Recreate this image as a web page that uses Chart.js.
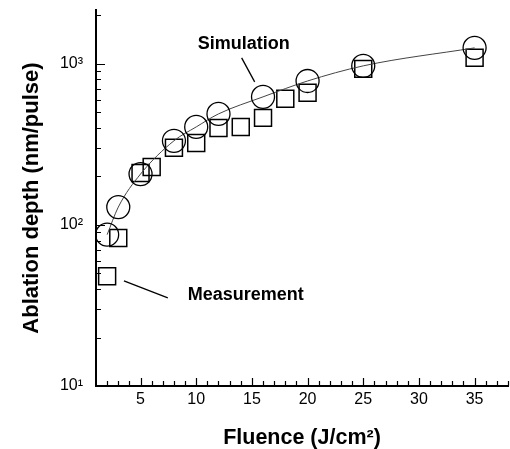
<!DOCTYPE html>
<html lang="en">
<head>
<meta charset="UTF-8">
<title>Ablation depth vs fluence</title>
<script src="https://cdn.jsdelivr.net/npm/chart.js@4.4.0/dist/chart.umd.min.js"></script>
<style>
html, body { margin: 0; padding: 0; background: #fff; }
</style>
</head>
<body>
<canvas id="myChart" width="510" height="449"></canvas>
<script>
// simulation results (circles joined by a line)
var simFluence = [2, 3, 5, 8, 10, 12, 16, 20, 25, 35];
var simDepth = [87, 129, 207, 333, 406, 489, 624, 783, 972, 1257];

// measured values (squares)
var measFluence = [2, 3, 5, 6, 8, 10, 12, 14, 16, 18, 20, 25, 35];
var measDepth = [48, 83, 210, 229, 301, 323, 400, 406, 462, 607, 661, 931, 1090];

// axis ticks
var xTickValues = [5, 10, 15, 20, 25, 30, 35];
var yTickValues = [10, 100, 1000];
var yTickLabels = ['10\u00B9', '10\u00B2', '10\u00B3'];

var FONT = '"Liberation Sans", Arial, Helvetica, sans-serif';

function toPoints(xs, ys) {
  var pts = [];
  for (var i = 0; i < xs.length; i++) pts.push({x: xs[i], y: ys[i]});
  return pts;
}

// labels with leader lines, placed in data units
var notes = [
  {text: 'Simulation', x: 14.26, y: 1331, align: 'center', from: [14.08, 1090], to: [15.25, 773]},
  {text: 'Measurement', x: 9.24, y: 36.7, align: 'left', from: [3.51, 44.9], to: [7.45, 35.2]}
];

// ticks point into the plot, major ones longer
var innerTicks = {
  id: 'innerTicks',
  afterDraw: function(chart) {
    var ctx = chart.ctx, xs = chart.scales.x, ys = chart.scales.y, a = chart.chartArea;
    ctx.save();
    ctx.strokeStyle = '#000';
    ctx.lineWidth = 1.2;
    ctx.beginPath();
    for (var v = Math.ceil(xs.min) + 1; v <= xs.max; v++) {
      var px = Math.round(xs.getPixelForValue(v)) + 0.5;
      var len = (v % 5 === 0) ? 8 : 5;
      ctx.moveTo(px, a.bottom);
      ctx.lineTo(px, a.bottom - len);
    }
    for (var d = 10; d <= ys.max; d *= 10) {
      for (var k = 1; k <= 9; k++) {
        var val = d * k;
        if (val > ys.max) break;
        var py = Math.round(ys.getPixelForValue(val)) + 0.5;
        var l = (k === 1) ? 9 : 5;
        ctx.moveTo(a.left, py);
        ctx.lineTo(a.left + l, py);
      }
    }
    ctx.stroke();
    ctx.restore();
  }
};

var noteLabels = {
  id: 'noteLabels',
  afterDraw: function(chart) {
    var ctx = chart.ctx, xs = chart.scales.x, ys = chart.scales.y;
    ctx.save();
    ctx.strokeStyle = '#000';
    ctx.lineWidth = 1.3;
    ctx.fillStyle = '#000';
    ctx.font = 'bold 18px ' + FONT;
    ctx.textBaseline = 'middle';
    notes.forEach(function(n) {
      ctx.beginPath();
      ctx.moveTo(xs.getPixelForValue(n.from[0]), ys.getPixelForValue(n.from[1]));
      ctx.lineTo(xs.getPixelForValue(n.to[0]), ys.getPixelForValue(n.to[1]));
      ctx.stroke();
      ctx.textAlign = n.align;
      ctx.fillText(n.text, xs.getPixelForValue(n.x), ys.getPixelForValue(n.y));
    });
    ctx.restore();
  }
};

var ctx = document.getElementById('myChart').getContext('2d');
var chart = new Chart(ctx, {
  type: 'scatter',
  data: {
    datasets: [{
      label: 'Simulation',
      data: toPoints(simFluence, simDepth),
      showLine: true,
      cubicInterpolationMode: 'monotone',
      borderColor: '#444',
      borderWidth: 1,
      pointStyle: 'circle',
      pointRadius: 11.5,
      pointBorderColor: '#000',
      pointBorderWidth: 1.3,
      pointBackgroundColor: 'rgba(0,0,0,0)',
      clip: false
    }, {
      label: 'Measurement',
      data: toPoints(measFluence, measDepth),
      showLine: false,
      pointStyle: 'rect',
      pointRadius: 12,
      pointBorderColor: '#000',
      pointBorderWidth: 1.5,
      pointBackgroundColor: 'rgba(0,0,0,0)',
      clip: false
    }]
  },
  options: {
    responsive: false,
    animation: false,
    events: [],
    layout: { autoPadding: false, padding: { top: 10, right: 2, left: 0, bottom: 0 } },
    plugins: { legend: { display: false }, tooltip: { enabled: false } },
    scales: {
      x: {
        type: 'linear',
        min: 1,
        max: 38,
        afterBuildTicks: function(scale) {
          scale.ticks = xTickValues.map(function(v) { return {value: v}; });
        },
        afterFit: function(scale) {
          scale.height = 63;
          scale.paddingLeft = 0;
          scale.paddingRight = 0;
        },
        grid: { display: false, drawTicks: false },
        border: { display: true, color: '#000', width: 2 },
        ticks: {
          color: '#000',
          padding: 4,
          maxRotation: 0,
          font: { family: FONT, size: 16 }
        },
        title: {
          display: true,
          text: 'Fluence (J/cm\u00B2)',
          color: '#000',
          font: { family: FONT, size: 21.5, weight: 'bold', lineHeight: 1 },
          padding: { top: 0, bottom: 0 }
        }
      },
      y: {
        type: 'logarithmic',
        min: 10,
        max: 2160,
        afterBuildTicks: function(scale) {
          scale.ticks = yTickValues.map(function(v) { return {value: v}; });
        },
        afterFit: function(scale) {
          scale.width = 96;
          scale.paddingTop = 0;
          scale.paddingBottom = 0;
        },
        grid: { display: false, drawTicks: false },
        border: { display: true, color: '#000', width: 2 },
        ticks: {
          color: '#000',
          padding: 13,
          font: { family: FONT, size: 16 },
          callback: function(value) {
            var i = yTickValues.indexOf(value);
            return i >= 0 ? yTickLabels[i] : '';
          }
        },
        title: {
          display: true,
          text: 'Ablation depth (nm/pulse)',
          color: '#000',
          font: { family: FONT, size: 22, weight: 'bold', lineHeight: 1.1 },
          padding: { top: 20, bottom: 0 }
        }
      }
    }
  },
  plugins: [innerTicks, noteLabels]
});
</script>
</body>
</html>
